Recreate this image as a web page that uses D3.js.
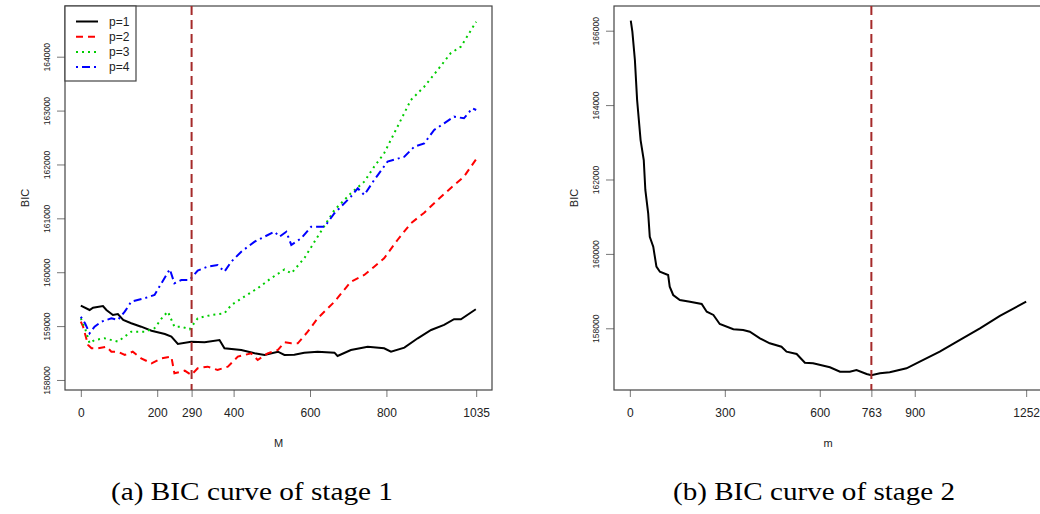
<!DOCTYPE html>
<html lang="en">
<head>
<meta charset="UTF-8">
<title>BIC curves</title>
<script src="https://d3js.org/d3.v7.min.js"></script>
<style>
  body { margin: 0; background: #fff; }
  svg text { font-family: "Liberation Sans", Arial, sans-serif; fill: #222; }
  svg text.caption { font-family: "Liberation Serif", "DejaVu Serif", serif; fill: #000; }
</style>
</head>
<body>
<script>
// stage 1: BIC against M, one series per p
var p1 = [[0,159379],[23,159299],[32,159342],[58,159373],[67,159299],[84,159206],[97,159225],[111,159114],[132,159052],[158,158989],[185,158915],[220,158854],[237,158804],[254,158668],[289,158711],[324,158700],[363,158742],[376,158588],[420,158557],[455,158495],[481,158464],[516,158525],[533,158464],[559,158470],[585,158507],[620,158525],[664,158507],[672,158445],[707,158557],[751,158618],[794,158588],[812,158525],[847,158600],[882,158774],[917,158928],[951,159021],[977,159127],[995,159127],[1034,159312]];
var p2 = [[0,159082],[6,158989],[19,158650],[28,158588],[45,158588],[67,158618],[80,158525],[97,158525],[115,158464],[136,158525],[158,158402],[185,158309],[211,158402],[237,158433],[245,158124],[272,158173],[289,158093],[306,158217],[332,158247],[358,158186],[385,158247],[411,158433],[446,158495],[463,158371],[489,158495],[516,158557],[533,158700],[551,158681],[568,158681],[594,158896],[620,159145],[664,159453],[707,159824],[742,159949],[768,160103],[794,160259],[829,160598],[864,160908],[899,161105],[934,161341],[968,161558],[1003,161773],[1035,162100]];
var p3 = [[0,159145],[11,158960],[23,158681],[36,158742],[62,158774],[97,158711],[132,158896],[167,158896],[193,158960],[215,159175],[228,159268],[245,158989],[263,158989],[285,158941],[306,159145],[341,159206],[376,159238],[394,159392],[428,159546],[463,159702],[498,159888],[533,160050],[551,159980],[585,160259],[620,160660],[664,161155],[707,161465],[742,161680],[768,161959],[794,162207],[829,162701],[864,163197],[899,163443],[934,163753],[968,164063],[995,164186],[1035,164650]];
var p4 = [[0,159175],[11,159052],[23,158867],[36,158989],[54,159082],[80,159145],[97,159114],[115,159268],[132,159453],[167,159516],[193,159578],[211,159795],[233,160055],[245,159795],[263,159856],[285,159856],[306,160029],[332,160103],[358,160134],[376,160010],[394,160196],[420,160381],[455,160567],[481,160660],[507,160752],[520,160660],[538,160752],[551,160506],[577,160630],[603,160845],[638,160845],[664,161094],[707,161402],[725,161558],[742,161433],[768,161712],[803,162052],[847,162144],[873,162330],[899,162392],[925,162640],[951,162764],[977,162887],[1003,162857],[1025,163043],[1035,163011]];

// stage 2: BIC against m
var stage2 = [[3,166269],[8,165973],[16,165212],[23,164137],[34,163059],[44,162524],[49,161718],[58,161091],[63,160462],[74,160194],[84,159656],[95,159521],[121,159433],[126,159118],[137,158895],[158,158761],[190,158715],[227,158653],[243,158446],[264,158358],[284,158116],[327,157973],[358,157954],[379,157909],[411,157731],[442,157597],[479,157505],[495,157371],[527,157309],[553,157075],[579,157059],[632,156952],[664,156833],[695,156833],[716,156879],[748,156772],[763,156737],[790,156790],[821,156817],[874,156925],[916,157102],[979,157371],[1043,157686],[1106,158000],[1169,158331],[1252,158715]];

var legendLabels = ["p=1", "p=2", "p=3", "p=4"];
var seriesColors = ["#000000", "#ff0000", "#00cd00", "#0000ff"];
var seriesDash = [null, "7,5", "2,4", "2,4,8,4"];

var leftXTicks = [0, 200, 290, 400, 600, 800, 1035];
var leftYTicks = [158000, 159000, 160000, 161000, 162000, 163000, 164000];
var rightXTicks = [0, 300, 600, 763, 900, 1252];
var rightYTicks = [158000, 160000, 162000, 164000, 166000];
var cutM = 290, cutm = 763;

var svg = d3.select("body").append("svg")
  .attr("width", 1040)
  .attr("height", 514);

function panel(opt) {
  var x = d3.scaleLinear().domain(opt.xDomain).range([opt.left, opt.right]);
  var y = d3.scaleLinear().domain(opt.yDomain).range([opt.bottom, opt.top]);
  var g = svg.append("g");

  // x axis
  var xa = g.append("g")
    .attr("transform", `translate(0,${opt.bottom})`)
    .call(d3.axisBottom(x).tickValues(opt.xTicks).tickFormat(d3.format("d")).tickSize(7).tickPadding(11));
  xa.select(".domain").remove();
  xa.selectAll("line").attr("stroke", "#777");
  xa.selectAll("text").attr("font-size", 12).attr("font-family", null).attr("fill", "#222");

  // y axis, labels turned like base R
  var ya = g.append("g")
    .attr("transform", `translate(${opt.left},0)`)
    .call(d3.axisLeft(y).tickValues(opt.yTicks).tickFormat(d3.format("d")).tickSize(8));
  ya.select(".domain").remove();
  ya.selectAll("line").attr("stroke", "#777");
  ya.selectAll("text")
    .attr("font-size", 8.5).attr("font-family", null).attr("fill", "#222")
    .attr("transform", "rotate(-90)")
    .attr("x", 0).attr("y", -18).attr("dy", "0.35em")
    .attr("text-anchor", "middle");

  // plot box
  g.append("rect")
    .attr("x", opt.left).attr("y", opt.top)
    .attr("width", opt.right - opt.left).attr("height", opt.bottom - opt.top)
    .attr("fill", "none").attr("stroke", "#444").attr("stroke-width", 1.2);

  g.append("text")
    .attr("x", (opt.left + opt.right) / 2).attr("y", 447)
    .attr("text-anchor", "middle").attr("font-size", 11)
    .text(opt.xLabel);
  g.append("text")
    .attr("transform", `translate(${opt.left - 40},${(opt.top + opt.bottom) / 2}) rotate(-90)`)
    .attr("text-anchor", "middle").attr("dy", "0.35em").attr("font-size", 11)
    .text("BIC");

  var line = d3.line().x(d => x(d[0])).y(d => y(d[1]));
  opt.series.forEach(function(s, i) {
    g.append("path")
      .datum(s)
      .attr("fill", "none")
      .attr("stroke", seriesColors[i])
      .attr("stroke-width", 2)
      .attr("stroke-dasharray", seriesDash[i])
      .attr("d", line);
  });

  g.append("line")
    .attr("x1", x(opt.cut)).attr("x2", x(opt.cut))
    .attr("y1", opt.top).attr("y2", opt.bottom)
    .attr("stroke", "#a52a2a").attr("stroke-width", 2)
    .attr("stroke-dasharray", "9,5");

  g.append("text")
    .attr("class", "caption")
    .attr("x", opt.captionX).attr("y", 500)
    .attr("text-anchor", "middle")
    .attr("font-size", 26)
    .attr("textLength", 282).attr("lengthAdjust", "spacingAndGlyphs")
    .text(opt.caption);

  return g;
}

var left = panel({
  left: 65, right: 492, top: 6, bottom: 390,
  xDomain: [-41.4, 1076.4], yDomain: [157814, 164941],
  xTicks: leftXTicks, yTicks: leftYTicks,
  xLabel: "M", cut: cutM,
  series: [p1, p2, p3, p4],
  caption: "(a) BIC curve of stage 1", captionX: 252
});

panel({
  left: 614, right: 1042, top: 6, bottom: 390,
  xDomain: [-50, 1302], yDomain: [156341, 166664],
  xTicks: rightXTicks, yTicks: rightYTicks,
  xLabel: "m", cut: cutm,
  series: [stage2],
  caption: "(b) BIC curve of stage 2", captionX: 814
});

// legend in the top-left corner of stage 1
var lg = left.append("g");
lg.append("rect")
  .attr("x", 65).attr("y", 6).attr("width", 71).attr("height", 75)
  .attr("fill", "#fff").attr("stroke", "#444").attr("stroke-width", 1.2);
legendLabels.forEach(function(lab, i) {
  var yy = 21.5 + i * 15.2;
  lg.append("line")
    .attr("x1", 76).attr("x2", 98).attr("y1", yy).attr("y2", yy)
    .attr("stroke", seriesColors[i]).attr("stroke-width", 2)
    .attr("stroke-dasharray", seriesDash[i]);
  lg.append("text")
    .attr("x", 109).attr("y", yy).attr("dy", "0.35em")
    .attr("font-size", 12)
    .text(lab);
});
</script>
</body>
</html>
